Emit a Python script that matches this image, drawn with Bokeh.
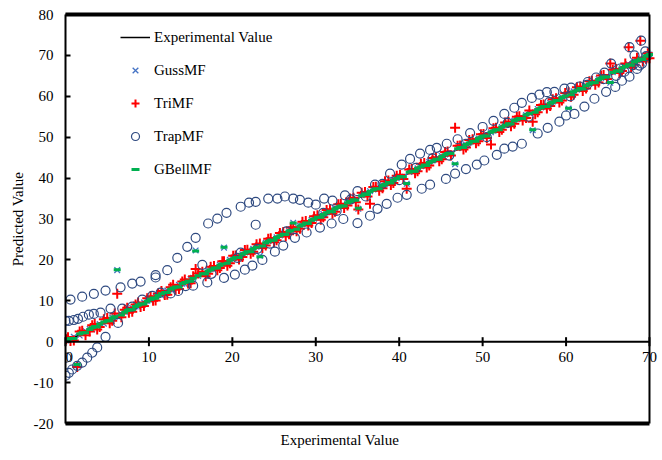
import math
from bokeh.plotting import figure
from bokeh.models import FixedTicker, Range1d, Label, Title
from bokeh.embed import file_html
from bokeh.resources import INLINE

FONT = "Liberation Serif"

# ---------------- data ----------------
exp_vals = [
    0.1, 0.6, 1.4, 2.0, 2.9, 3.5, 4.1, 5.0, 5.6, 6.2,
    7.1, 7.6, 8.4, 9.0, 9.8, 10.5, 11.1, 11.9, 12.6, 13.2,
    14.0, 14.7, 15.3, 15.6, 16.4, 17.1, 17.8, 18.5, 19.0, 19.7,
    20.4, 21.2, 21.8, 22.5, 23.3, 24.0, 24.6, 25.3, 26.1, 26.8,
    27.3, 28.1, 28.8, 29.5, 30.2, 30.9, 31.7, 32.3, 33.0, 33.8,
    34.5, 35.1, 35.9, 36.5, 37.2, 38.0, 38.7, 39.3, 40.1, 40.9,
    41.5, 42.2, 43.0, 43.6, 44.4, 45.1, 45.8, 46.7, 47.3, 48.0,
    48.8, 49.5, 50.1, 51.0, 51.6, 52.3, 53.1, 53.8, 54.4, 55.2,
    56.0, 56.6, 57.3, 58.1, 58.8, 59.5, 60.3, 60.9, 61.7, 62.4,
    63.1, 63.9, 64.5, 65.3, 66.0, 66.7, 67.5, 68.2, 68.9, 69.6,
]
exp_vals2 = [
    0.3, 1.0, 1.7, 2.4, 3.2, 3.8, 4.6, 5.3, 5.9, 6.7,
    7.4, 8.0, 8.7, 9.4, 10.2, 10.8, 11.5, 12.2, 12.9, 13.6,
    14.3, 15.0, 15.9, 16.8, 17.4, 18.2, 18.8, 19.4, 20.1, 20.8,
    21.5, 22.2, 22.9, 23.6, 24.3, 25.0, 25.7, 26.4, 27.0, 27.7,
    28.4, 29.1, 29.8, 30.6, 31.3, 32.0, 32.7, 33.4, 34.1, 34.8,
    35.5, 36.2, 36.9, 37.6, 38.3, 39.0, 39.7, 40.5, 41.2, 41.9,
    42.6, 43.3, 44.0, 44.8, 45.5, 46.2, 47.0, 47.7, 48.4, 49.2,
    49.8, 50.5, 51.3, 52.0, 52.7, 53.4, 54.1, 54.8, 55.6, 56.3,
    57.0, 57.7, 58.4, 59.2, 59.9, 60.6, 61.3, 62.0, 62.8, 63.5,
    64.2, 64.9, 65.6, 66.4, 67.1, 67.8, 68.5, 69.2, 69.8, 70.0,
]

guss_pred = [
    0.3, 0.9, -5.8, 2.3, 3.1, 3.8, 4.3, 5.2, 5.9, 17.5,
    7.3, 7.9, 8.6, 9.3, 10.0, 10.7, 11.4, 12.1, 12.8, 13.5,
    14.2, 14.9, 15.6, 22.3, 16.6, 17.4, 18.0, 18.8, 23.0, 20.0,
    20.6, 21.4, 22.1, 22.7, 21.0, 24.2, 24.9, 25.5, 26.4, 27.0,
    29.1, 28.4, 29.0, 29.8, 30.4, 31.2, 31.9, 32.6, 33.2, 34.1,
    34.7, 32.5, 36.2, 36.8, 37.4, 38.3, 38.9, 39.6, 40.3, 38.6,
    41.8, 42.4, 43.3, 43.9, 44.6, 45.4, 46.0, 43.4, 47.6, 48.2,
    49.1, 49.7, 50.4, 51.2, 51.9, 52.5, 53.4, 54.0, 54.7, 55.4,
    51.7, 56.9, 57.5, 58.4, 59.0, 59.8, 57.0, 61.2, 61.9, 62.7,
    63.3, 64.2, 64.7, 63.3, 66.3, 66.9, 67.8, 68.4, 69.2, 69.8,
]
guss_pred2 = [
    0.5, 1.2, 1.5, 2.6, 3.0, 4.0, 4.4, 5.5, 6.1, 6.5,
    7.6, 8.2, 8.5, 9.6, 10.0, 11.1, 11.3, 12.5, 12.7, 13.9,
    14.1, 15.3, 16.1, 16.6, 17.7, 18.0, 19.1, 19.2, 20.4, 20.6,
    21.8, 22.0, 23.2, 23.4, 24.6, 24.8, 26.0, 26.2, 27.3, 27.5,
    28.7, 28.9, 30.1, 30.4, 31.6, 31.8, 33.0, 33.2, 34.4, 34.6,
    35.8, 36.0, 37.2, 37.4, 38.6, 38.8, 40.0, 40.3, 41.5, 41.7,
    42.9, 43.1, 44.3, 44.6, 45.8, 46.0, 47.3, 47.5, 48.7, 49.0,
    50.1, 50.3, 51.6, 51.8, 53.0, 53.2, 54.4, 54.6, 55.9, 56.1,
    57.3, 57.5, 58.7, 59.0, 60.2, 60.4, 61.6, 61.8, 63.1, 63.3,
    64.5, 64.7, 65.9, 66.2, 67.4, 67.6, 68.8, 69.0, 70.1, 70.2,
]

tri_pred = [
    0.6, 0.2, -6.2, 2.7, 2.5, 4.3, 3.6, 5.8, 5.1, 11.7,
    7.8, 7.1, 9.1, 8.5, 10.6, 10.0, 11.8, 11.4, 13.3, 12.7,
    14.7, 14.2, 16.0, 17.8, 17.1, 16.6, 18.5, 18.0, 19.7, 19.2,
    21.1, 20.7, 22.5, 22.0, 24.0, 23.5, 25.3, 24.8, 26.8, 26.3,
    28.0, 27.6, 29.5, 29.0, 30.9, 30.4, 32.4, 31.8, 33.7, 33.3,
    35.2, 32.3, 36.6, 33.7, 37.9, 37.5, 39.4, 38.8, 40.8, 37.4,
    42.2, 41.7, 43.7, 43.1, 45.1, 44.6, 46.5, 52.3, 48.0, 47.5,
    49.5, 49.0, 50.8, 48.2, 52.3, 51.8, 53.8, 53.3, 55.1, 54.7,
    53.8, 56.1, 58.0, 57.6, 59.5, 59.0, 61.0, 60.4, 62.4, 61.9,
    63.8, 63.4, 65.2, 68.0, 66.7, 66.2, 72.0, 67.7, 73.6, 69.1,
]
tri_pred2 = [
    1.1, 0.3, 2.5, 1.6, 4.0, 3.0, 5.5, 4.5, 6.9, 6.0,
    8.3, 7.3, 9.6, 8.7, 11.1, 10.1, 12.4, 11.5, 13.9, 12.9,
    15.2, 14.3, 16.7, 16.0, 18.3, 17.5, 19.7, 18.6, 21.0, 20.1,
    22.4, 21.5, 23.8, 22.9, 25.2, 24.3, 26.6, 25.7, 27.9, 27.0,
    29.3, 28.4, 30.7, 29.8, 32.2, 31.3, 33.6, 32.7, 35.0, 34.1,
    36.4, 35.5, 37.8, 36.9, 39.2, 38.3, 40.6, 39.8, 42.1, 41.2,
    43.5, 42.6, 44.9, 44.1, 46.4, 45.5, 47.9, 47.0, 49.3, 48.5,
    50.7, 49.8, 52.2, 51.3, 53.6, 52.7, 55.0, 54.1, 56.5, 55.6,
    57.9, 57.0, 59.3, 58.5, 60.8, 59.9, 62.2, 61.3, 63.7, 62.8,
    65.1, 64.2, 66.5, 65.7, 68.0, 67.1, 69.4, 68.5, 70.5, 69.3,
]

gbell_pred = [
    0.2, 0.8, -5.6, 2.2, 3.0, 3.7, 4.3, 5.1, 5.8, 17.6,
    7.2, 7.8, 8.6, 9.2, 9.9, 10.7, 11.3, 12.0, 12.8, 13.4,
    14.2, 14.8, 15.5, 22.2, 16.6, 17.3, 18.0, 18.7, 23.1, 19.9,
    20.6, 21.4, 22.0, 22.7, 20.8, 24.2, 24.8, 25.5, 26.3, 27.0,
    29.0, 28.3, 29.0, 29.7, 30.4, 31.1, 31.9, 32.5, 33.2, 34.0,
    34.7, 32.6, 36.1, 36.7, 37.4, 38.2, 38.9, 39.5, 40.3, 38.7,
    41.7, 42.4, 43.2, 43.8, 44.6, 45.3, 46.0, 43.5, 47.5, 48.2,
    49.0, 49.7, 50.3, 51.2, 51.8, 52.5, 53.3, 54.0, 54.6, 55.4,
    51.8, 56.8, 57.5, 58.3, 59.0, 59.7, 57.1, 61.1, 61.9, 62.6,
    63.3, 64.1, 64.7, 63.4, 66.2, 66.9, 67.7, 68.4, 69.1, 69.8,
]
gbell_pred2 = [
    0.4, 0.8, 1.9, 2.2, 3.4, 3.6, 4.8, 5.1, 6.1, 6.5,
    7.6, 7.8, 8.9, 9.2, 10.4, 10.6, 11.7, 12.0, 13.1, 13.4,
    14.5, 14.8, 16.1, 16.6, 17.6, 18.0, 19.0, 19.2, 20.3, 20.6,
    21.7, 22.0, 23.1, 23.4, 24.5, 24.8, 25.9, 26.2, 27.2, 27.5,
    28.6, 28.9, 30.0, 30.4, 31.5, 31.8, 32.9, 33.2, 34.3, 34.6,
    35.7, 36.0, 37.1, 37.4, 38.5, 38.8, 39.9, 40.3, 41.4, 41.7,
    42.8, 43.1, 44.2, 44.6, 45.7, 46.0, 47.2, 47.5, 48.6, 49.0,
    50.0, 50.3, 51.5, 51.8, 52.9, 53.2, 54.3, 54.6, 55.8, 56.1,
    57.2, 57.5, 58.6, 59.0, 60.1, 60.4, 61.5, 61.8, 63.0, 63.3,
    64.4, 64.7, 65.8, 66.2, 67.3, 67.6, 68.7, 69.0, 70.0, 70.2,
]

trap_exp = [
    0.0, 0.1, 0.4, 0.8, 1.4, 2.0, 2.6, 3.2, 3.8, 4.8,
    0.0, 0.4, 1.0, 1.5, 2.1, 2.8, 3.4, 4.2, 5.4, 6.8, 6.3,
    0.6, 2.0, 3.4, 4.8, 6.6, 8.0, 9.0, 10.8, 10.8, 12.2,
    13.4, 14.6, 15.6, 17.1, 18.2, 19.3, 21.0, 22.0, 22.8, 24.3,
    25.4, 26.3, 27.3, 28.1, 29.1, 30.0, 31.0,
    8.0, 9.2, 10.4, 11.4, 12.6, 13.5, 14.4, 16.4, 17.5, 20.6,
    21.0, 23.0, 22.8, 24.5, 26.5,
    15.3, 17.0, 19.0, 20.3, 21.5, 22.4, 23.6, 25.1, 26.1, 27.5,
    28.9, 30.5, 31.9, 33.3, 35.0, 36.5, 37.4, 38.5, 39.8, 40.9,
    42.7, 43.7, 45.6, 46.7, 48.0, 49.3, 50.2, 51.7, 52.6, 53.6,
    54.7, 56.6, 57.8, 59.2, 60.0, 61.0, 62.2, 63.4, 64.8, 65.9,
    66.7, 67.6, 68.5, 69.1,
    32.0, 33.5, 35.0, 37.1, 38.9, 40.3, 41.3, 42.5, 43.7, 44.5,
    45.7, 47.0, 48.5, 50.0, 51.3, 52.6, 53.8, 54.7, 55.9, 56.8,
    57.7, 58.6, 59.8, 60.6, 61.6, 62.6, 63.6, 64.6, 65.4, 67.6,
    69.0, 69.5, 68.2,
    30.9, 32.5, 34.2, 36.0, 38.0, 40.0, 42.0, 44.0, 46.0, 48.0,
    50.5, 53.0, 55.5, 58.0, 60.5, 62.5, 64.5, 66.5, 68.0, 69.6,
    66.0, 67.0, 68.8,
]

trap_pred = [
    -8.3, -3.9, -7.6, -6.8, -5.9, -5.1, -3.9, -2.7, -1.4, 1.2,
    5.1, 5.1, 5.3, 5.6, 6.1, 6.6, 6.8, 7.1, 8.1, 8.1, 4.6,
    10.3, 11.0, 11.7, 12.5, 13.3, 14.2, 14.7, 15.7, 16.3, 17.5,
    20.5, 23.2, 25.4, 28.9, 30.1, 31.5, 33.0, 34.0, 34.2, 35.0,
    35.0, 35.5, 35.0, 34.7, 34.0, 33.5, 35.0,
    8.6, 10.3, 11.2, 12.0, 11.8, 12.4, 13.6, 18.8, 16.6, 20.5,
    21.8, 22.7, 28.6, 24.0, 27.0,
    13.7, 14.5, 15.6, 16.4, 17.6, 18.6, 20.0, 22.0, 23.5, 25.4,
    26.7, 27.9, 28.9, 30.0, 29.0, 30.8, 32.5, 33.7, 35.2, 35.9,
    37.4, 38.4, 39.8, 41.1, 42.2, 43.3, 44.3, 45.7, 47.2, 47.7,
    48.4, 50.9, 52.3, 53.8, 55.3, 55.7, 57.5, 59.4, 61.1, 62.3,
    63.8, 64.8, 66.7, 68.0,
    34.5, 35.8, 36.8, 38.4, 41.1, 43.3, 44.7, 46.0, 46.9, 47.4,
    48.4, 49.5, 51.0, 52.5, 54.0, 55.7, 57.2, 58.4, 59.6, 60.4,
    61.0, 61.1, 61.9, 62.1, 62.4, 63.5, 64.6, 65.8, 68.0, 72.0,
    73.6, 71.0, 70.0,
    31.5, 32.0, 34.8, 35.5, 38.6, 39.5, 42.5, 44.8, 45.5, 48.4,
    50.0, 53.5, 55.0, 58.6, 60.0, 62.8, 64.2, 66.8, 67.6, 69.8,
    65.0, 66.0, 67.5,
]

x_ticks = [0, 10, 20, 30, 40, 50, 60, 70]
x_tick_labels = ["0", "10", "20", "30", "40", "50", "60", "70"]
y_ticks = [-20, -10, 0, 10, 20, 30, 40, 50, 60, 70, 80]
y_tick_labels = ["-20", "-10", "0", "10", "20", "30", "40", "50", "60", "70", "80"]

x_lo, x_hi = x_ticks[0], x_ticks[-1]
y_lo, y_hi = y_ticks[0], y_ticks[-1]
# the frame runs a little past x_hi so that the last tick label is not cut
x_pad = 1.56

# ---------------- figure ----------------
p = figure(width=662, height=460, output_backend="svg", toolbar_location=None,
           x_range=Range1d(x_lo, x_hi + x_pad), y_range=Range1d(y_lo, y_hi),
           min_border_left=65, min_border_right=0, min_border_top=14,
           min_border_bottom=37)
p.xgrid.visible = False
p.ygrid.visible = False
p.outline_line_color = None
p.background_fill_color = "white"
p.border_fill_color = "white"

# left axis
ya = p.yaxis[0]
ya.ticker = FixedTicker(ticks=y_ticks)
ya.major_label_overrides = {t: l for t, l in zip(y_ticks, y_tick_labels)}
ya.major_tick_in = 5
ya.major_tick_out = 0
ya.minor_tick_in = 0
ya.minor_tick_out = 0
ya.axis_line_width = 2
ya.major_tick_line_width = 2
ya.major_label_standoff = 12
ya.major_label_text_font = FONT
ya.major_label_text_font_size = "15px"
ya.major_label_text_color = "black"
ya.axis_label = "Predicted Value"
ya.axis_label_text_font = FONT
ya.axis_label_text_font_size = "15px"
ya.axis_label_text_font_style = "normal"
ya.axis_label_text_color = "black"
ya.axis_label_standoff = 5

# bottom axis hidden; its title is a Title placed below the frame
p.xaxis.visible = False
p.add_layout(Title(text="Experimental Value", align="left", offset=215,
                   text_font=FONT, text_font_size="15px",
                   text_font_style="normal", text_color="black",
                   standoff=12), "below")

# series
p.line(exp_vals, exp_vals, line_color="black", line_width=1.5,
       legend_label="Experimental Value")
p.scatter(exp_vals + exp_vals2, guss_pred + guss_pred2, marker="x", size=8,
          line_color="#4472C4", line_width=1.3, legend_label="GussMF")
p.scatter(exp_vals + exp_vals2, tri_pred + tri_pred2, marker="cross", size=10,
          line_color="#FF0000", line_width=2, legend_label="TriMF")
p.scatter(trap_exp, trap_pred, marker="circle", size=9, line_color="#2F4A80",
          fill_color=None, line_width=1.2, legend_label="TrapMF")
p.scatter(exp_vals + exp_vals2, gbell_pred + gbell_pred2, marker="dash", size=7,
          line_color="#00B050", line_width=3, legend_label="GBellMF")

# plot box (top, bottom, right) limited to the axis limits
p.line([x_lo, x_hi], [y_hi, y_hi], line_color="black", line_width=4, level="overlay")
p.line([x_lo, x_hi], [y_lo, y_lo], line_color="black", line_width=4, level="overlay")
p.line([x_hi, x_hi], [y_lo, y_hi], line_color="black", line_width=2, level="overlay")

# horizontal axis crossing at y = 0
p.line([x_lo, x_hi], [0, 0], line_color="black", line_width=2, level="overlay")
p.scatter(x=x_ticks, y=[0] * len(x_ticks), marker="dash", angle=math.pi / 2,
          size=9, line_color="black", line_width=2, level="overlay")
for tx, tl in zip(x_ticks, x_tick_labels):
    p.add_layout(Label(x=tx, y=0, text=tl, text_font=FONT, text_font_size="15px",
                       text_color="black",
                       text_align="left" if tx == x_lo else "center",
                       text_baseline="top", y_offset=-10, level="overlay"))

lg = p.legend[0]
lg.location = (55, 244)
lg.label_text_font = FONT
lg.label_text_font_size = "15px"
lg.label_text_color = "black"
lg.glyph_width = 30
lg.glyph_height = 20
lg.label_height = 20
lg.spacing = 13
lg.padding = 0
lg.margin = 0
lg.label_standoff = 4
lg.border_line_color = None
lg.background_fill_alpha = 0

open("out.html", "w").write(file_html(p, INLINE))
